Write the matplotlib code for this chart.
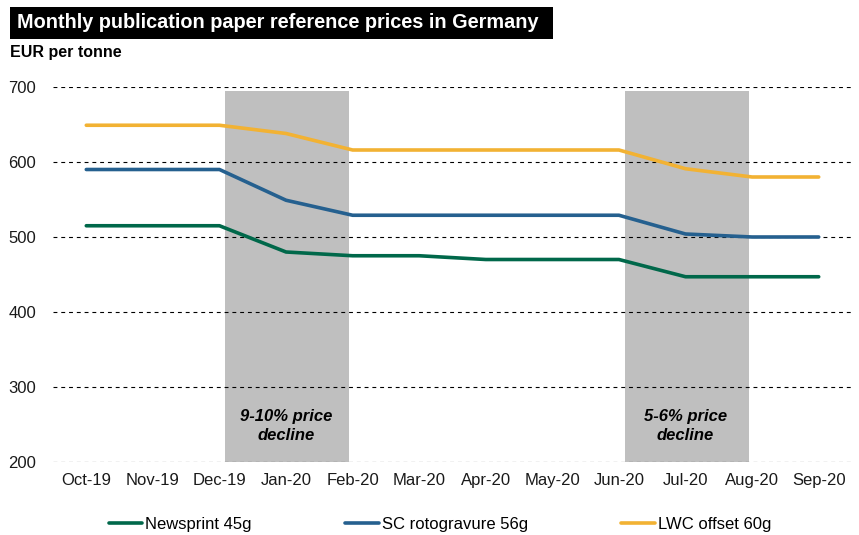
import matplotlib
matplotlib.use("Agg")
import matplotlib.pyplot as plt
from matplotlib.patches import Rectangle

plt.rcParams["font.family"] = ["Liberation Sans", "DejaVu Sans"]

months = ["Oct-19", "Nov-19", "Dec-19", "Jan-20", "Feb-20", "Mar-20",
          "Apr-20", "May-20", "Jun-20", "Jul-20", "Aug-20", "Sep-20"]
newsprint = [515, 515, 515, 480, 475, 475, 470, 470, 470, 447, 447, 447]
sc_roto = [590, 590, 590, 549, 529, 529, 529, 529, 529, 504, 500, 500]
lwc_offset = [649, 649, 649, 638, 616, 616, 616, 616, 616, 591, 580, 580]

# shaded decline periods: centre month, height, label
decline_months = ["Jan-20", "Jul-20"]
decline_height = [695, 695]
decline_labels = ["9-10% price\ndecline", "5-6% price\ndecline"]

fig = plt.figure(figsize=(8.59, 5.35), dpi=100)
ax = fig.add_axes([53 / 859, 1 - 462 / 535, (852 - 53) / 859, (462 - 87) / 535])

x = list(range(len(months)))
for m, h, lab in zip(decline_months, decline_height, decline_labels):
  i = months.index(m)
  ax.bar(i + 0.02, h - 200, bottom=200, width=1.86, color="#BFBFBF", zorder=1)
  ax.text(i, 248, lab, ha="center", va="center", fontsize=12,
          fontweight="bold", fontstyle="italic", linespacing=1.4, zorder=4)

ax.plot(x, newsprint, color="#00684A", lw=2.6, label="Newsprint 45g",
        zorder=3, solid_capstyle="round")
ax.plot(x, sc_roto, color="#25608F", lw=2.6, label="SC rotogravure 56g",
        zorder=3, solid_capstyle="round")
ax.plot(x, lwc_offset, color="#F2B233", lw=2.6, label="LWC offset 60g",
        zorder=3, solid_capstyle="round")

ax.set_xlim(-0.5, 11.5)
ax.set_ylim(200, 700)
ax.set_yticks([200, 300, 400, 500, 600, 700])
ax.set_xticks(x)
ax.set_xticklabels(months)
ax.grid(axis="y", color="black", linestyle=(0, (3.5, 3.5)), lw=0.8, zorder=2)
ax.set_axisbelow(False)
for s in ax.spines.values():
  s.set_visible(False)
ax.tick_params(length=0, labelsize=12, colors="#1a1a1a")
ax.tick_params(axis="x", pad=8)
ax.tick_params(axis="y", pad=12)

leg = fig.legend(loc="center", bbox_to_anchor=(440 / 859, 1 - 524 / 535), ncol=3,
                 frameon=False, fontsize=12, handlelength=2.0,
                 handletextpad=0.2, columnspacing=5.6)

fig.patches.append(Rectangle((10 / 859, 1 - 39 / 535), (553 - 10) / 859,
                             32 / 535, transform=fig.transFigure,
                             facecolor="black", zorder=0))
fig.text(17 / 859, 1 - 23 / 535, "Monthly publication paper reference prices in Germany",
         color="white", fontsize=14.3, fontweight="bold", va="center")
fig.text(10 / 859, 1 - 52 / 535, "EUR per tonne", fontsize=11.5,
         fontweight="bold", va="center")

fig.savefig("out.png", dpi=100)
